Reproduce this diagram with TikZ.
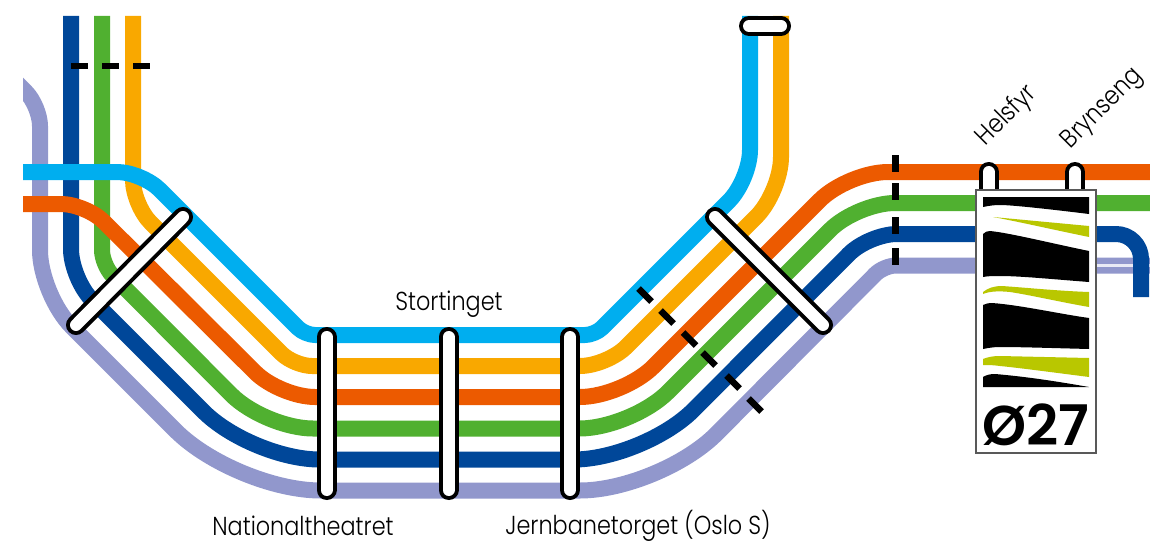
\documentclass[tikz,border=0pt]{standalone}
\usepackage{fontspec}
\newfontfamily\labf{Poppins}[UprightFont=* Light,FakeStretch=0.86]
\newfontfamily\numf{Poppins}[UprightFont=* SemiBold]
\definecolor{cy}{HTML}{00AEEF}
\definecolor{og}{HTML}{F9A800}
\definecolor{rd}{HTML}{EC5A00}
\definecolor{gn}{HTML}{50B030}
\definecolor{bl}{HTML}{004799}
\definecolor{lv}{HTML}{9197CC}
\definecolor{lime}{HTML}{B9C700}
\tikzset{
  x=1pt,y=-1pt,
  metro/.style={line width=16pt,line cap=butt,line join=round},
  tick/.style={line width=6.5pt,black,line cap=butt},
  stationlabel/.style={font=\labf\fontsize{26}{26}\selectfont,inner sep=0pt,text=black}
}
\newcommand{\capsule}[2]{%
  \draw[line width=20pt,line cap=round,black] #1 -- #2;
  \draw[line width=12pt,line cap=round,white] #1 -- #2;}
\begin{document}
\begin{tikzpicture}
\useasboundingbox (0,0) rectangle (1150,543);
\begin{scope}
\clip (23,16) rectangle (1150,543);
% lavender
\draw[metro,lv] (13,79) [rounded corners=20pt] -- (40,106) [rounded corners=45pt] -- (40,295) [rounded corners=85pt] -- (235.5,490.5) [rounded corners=80pt] -- (660,490.5) [rounded corners=12pt] -- (884,265.5) [rounded corners=0pt] -- (1150,265.5);
\draw[line width=3pt,white!80!lv] (1096,265.5) -- (1150,265.5);
% blue
\draw[metro,bl] (71,16) [rounded corners=30pt] -- (71,279) [rounded corners=68pt] -- (251.5,459.5) [rounded corners=70pt] -- (644,459.5) [rounded corners=28pt] -- (869,234) [rounded corners=25pt] -- (1141,234) [rounded corners=0pt] -- (1141,297);
% green
\draw[metro,gn] (102,16) [rounded corners=15pt] -- (102,265) [rounded corners=48pt] -- (265,428.5) [rounded corners=52pt] -- (631.5,428.5) [rounded corners=38pt] -- (857,203) [rounded corners=0pt] -- (1150,203);
% orange
\draw[metro,og] (133,16) [rounded corners=25pt] -- (133,205) [rounded corners=18pt] -- (294,366) [rounded corners=27pt] -- (607,366) [rounded corners=35pt] -- (781,192) [rounded corners=0pt] -- (781,16);
% red
\draw[metro,rd] (23,204) [rounded corners=25pt] -- (86,204) [rounded corners=35pt] -- (280,397) [rounded corners=43pt] -- (623,397) [rounded corners=40pt] -- (848,172) [rounded corners=0pt] -- (1150,172);
% cyan
\draw[metro,cy] (23,172) [rounded corners=25pt] -- (142,172) [rounded corners=10pt] -- (305,335) [rounded corners=10pt] -- (595,335) [rounded corners=30pt] -- (750,180) [rounded corners=0pt] -- (750,16);
\end{scope}
% dashed ticks, top left
\coordinate (tl1) at (71,66); \coordinate (tl1e) at (88,66);
\coordinate (tl2) at (102,66); \coordinate (tl2e) at (119,66);
\coordinate (tl3) at (133,66); \coordinate (tl3e) at (150,66);
\draw[tick] (tl1) -- (tl1e); \draw[tick] (tl2) -- (tl2e); \draw[tick] (tl3) -- (tl3e);
% ticks, upper right
\foreach \y in {155,183,217,248}{\draw[tick] (895.5,\y) -- (895.5,\y+17);}
% ticks, diagonal
\foreach \x/\y in {645/295,667/317,689.5/339,709/359,733/382,755/405}{\draw[tick] (\x-6.5,\y-6.5) -- (\x+6.5,\y+6.5);}
% station bars
\capsule{(326.5,337)}{(326.5,490)}
\capsule{(448.5,337)}{(448.5,490)}
\capsule{(570,337)}{(570,490)}
\capsule{(183,217)}{(76,325)}
\capsule{(715,217)}{(823,325)}
\capsule{(749,26)}{(781,26)}
\capsule{(988.5,172)}{(988.5,200)}
\capsule{(1075,172)}{(1075,200)}
% panel
\draw[draw=black!65,line width=1.4pt,fill=white] (976,190) rectangle (1096,453);
\fill[black] (983,197) -- (1089,197) -- (1089,214) .. controls (1040,208) and (1010,205) .. (1000,205) .. controls (993,205) and (988,206) .. (983,207) -- cycle;
\fill[lime] (993,217) -- (1089,226) -- (1089,237) .. controls (1050,229) and (1020,222) .. (993,217) -- cycle;
\fill[black] (983,234) .. controls (985,232) and (987,231) .. (990,231) .. controls (1010,233) and (1050,243) .. (1089,251) -- (1089,282) .. controls (1050,279) and (1020,276) .. (1000,276) .. controls (993,276) and (988,276) .. (983,277) -- cycle;
\fill[lime] (983,292) .. controls (988,288) and (994,286) .. (1002,286) .. controls (1030,288) and (1060,291) .. (1089,292) -- (1089,307) .. controls (1060,302) and (1030,295) .. (1010,292) .. controls (1000,291) and (990,291) .. (983,294) -- cycle;
\fill[black] (983,305) .. controls (985,304) and (988,303) .. (992,303) .. controls (1020,305) and (1060,314) .. (1089,318) -- (1089,349) .. controls (1050,348) and (1020,347) .. (1000,347) .. controls (993,347) and (988,348) .. (983,349) -- cycle;
\fill[lime] (983,359) .. controls (988,357) and (993,356) .. (1000,356) -- (1089,358) -- (1089,377) .. controls (1050,372) and (1020,368) .. (1000,366) .. controls (993,365) and (988,365) .. (983,365) -- cycle;
\fill[black] (983,377) .. controls (986,375) and (990,374) .. (995,374) .. controls (1030,377) and (1060,382) .. (1089,387) -- (983,387) -- cycle;
\node[font=\numf\fontsize{56}{56}\selectfont,inner sep=0pt,anchor=center] (num) at (1036,425) {Ø27};
% labels
\node[stationlabel] (st) at (449,304) {Stortinget};
\node[stationlabel] (nt) at (303,526) {Nationaltheatret};
\node[stationlabel] (jb) at (638,526) {Jernbanetorget (Oslo S)};
\node[stationlabel,rotate=45] (hf) at (1007,116) {Helsfyr};
\node[stationlabel,rotate=45] (br) at (1103,109) {Brynseng};
\end{tikzpicture}
\end{document}
